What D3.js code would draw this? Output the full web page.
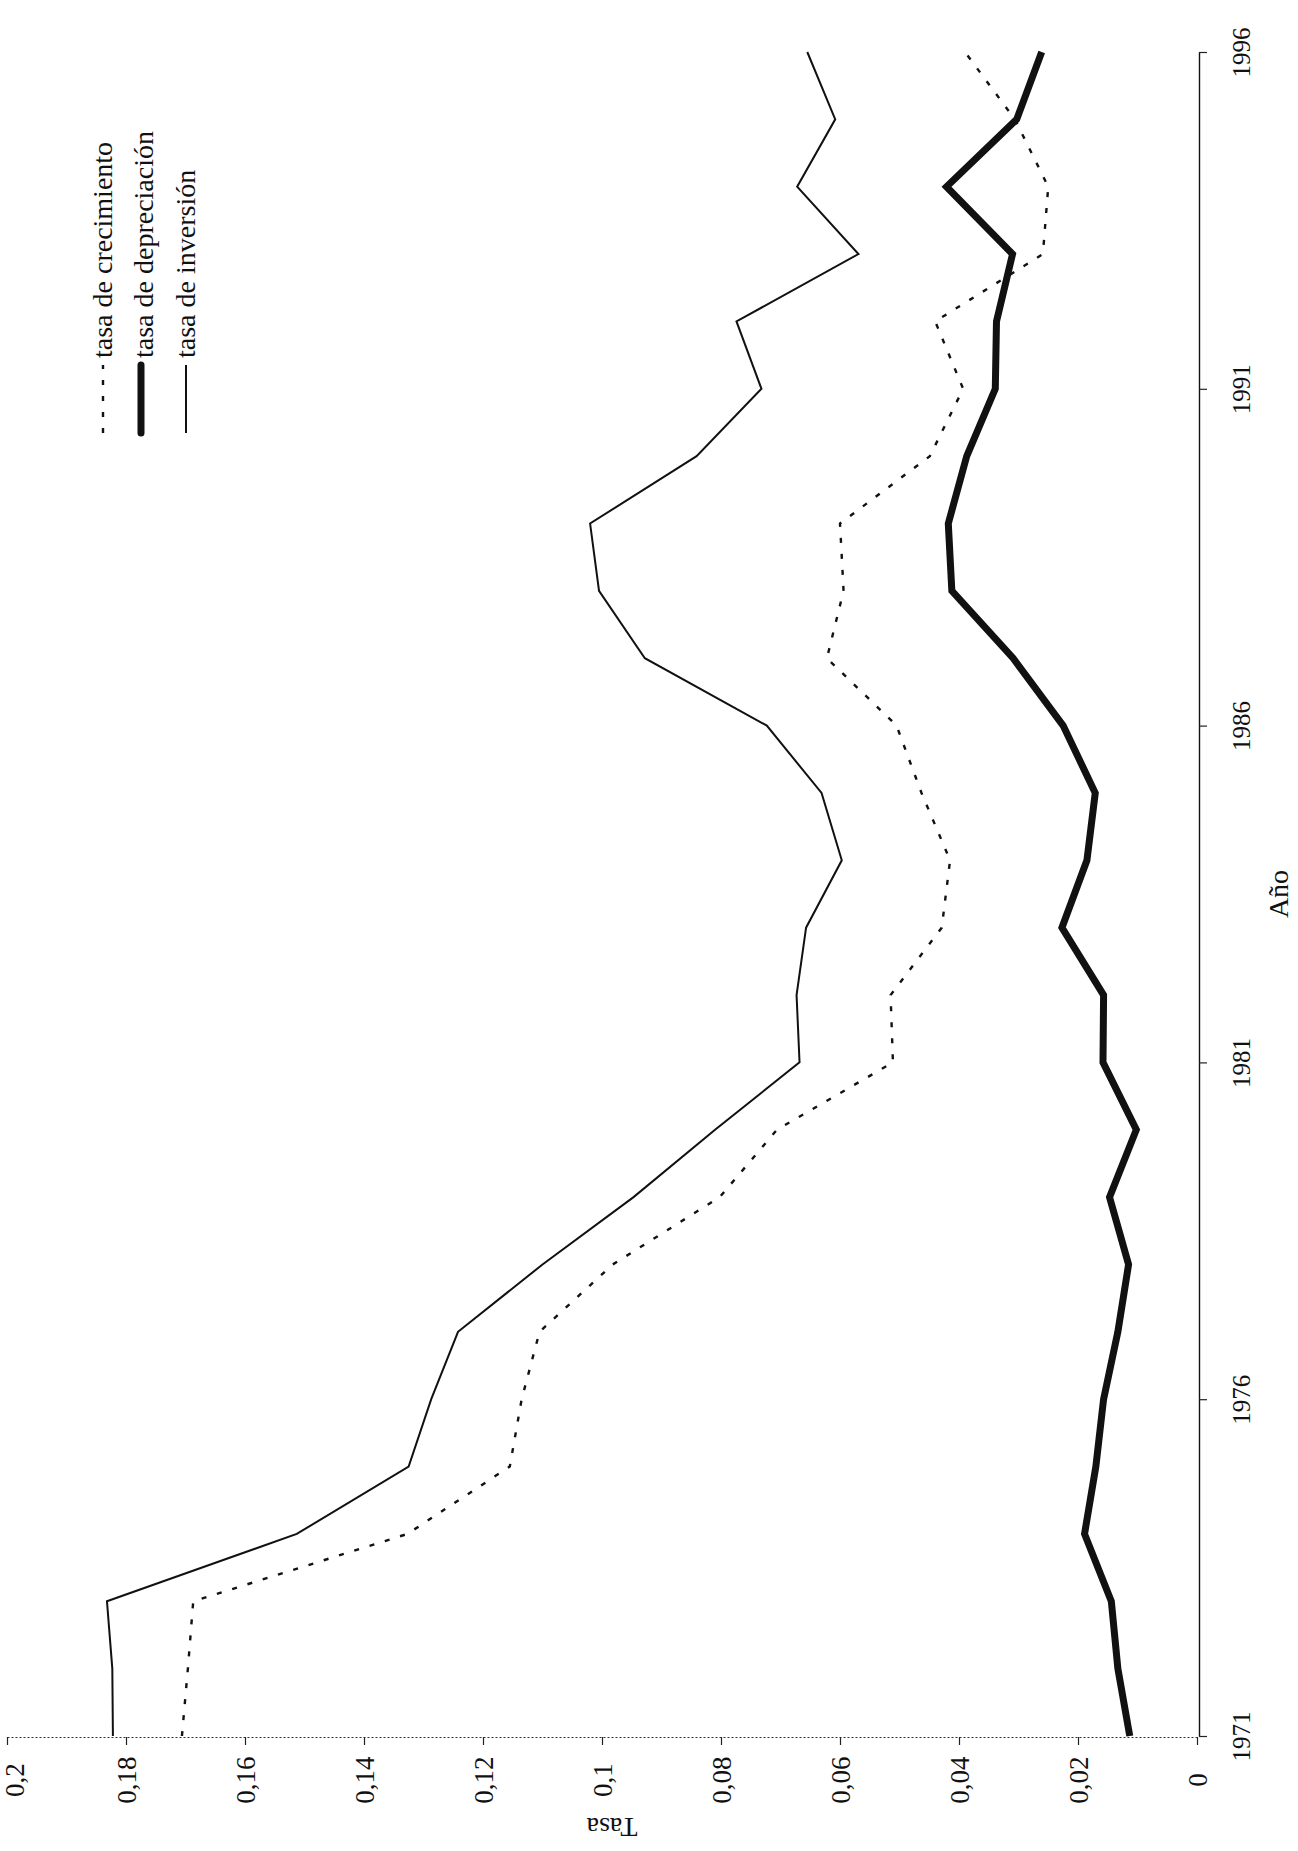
<!DOCTYPE html>
<html>
<head>
<meta charset="utf-8">
<script src="https://cdn.jsdelivr.net/npm/d3@7"></script>
<style>
  html, body { margin: 0; padding: 0; background: #fff; }
  svg { display: block; }
</style>
</head>
<body>
<svg id="chart" width="1298" height="1851"></svg>
<script>
// ---------------- DATA ----------------
const years = [1971, 1972, 1973, 1974, 1975, 1976, 1977, 1978, 1979, 1980,
               1981, 1982, 1983, 1984, 1985, 1986, 1987, 1988, 1989, 1990,
               1991, 1992, 1993, 1994, 1995, 1996];

const crecimiento = [0.1706, 0.1696, 0.1687, 0.1327, 0.1155, 0.1135, 0.1105, 0.0982, 0.0802, 0.0706,
                     0.0511, 0.0515, 0.0429, 0.0415, 0.0463, 0.0505, 0.0622, 0.0594, 0.0600, 0.0449,
                     0.0393, 0.0440, 0.0259, 0.0250, 0.0306, 0.0390];

const depreciacion = [0.0113, 0.0133, 0.0144, 0.0189, 0.0170, 0.0157, 0.0133, 0.0115, 0.0147, 0.0102,
                      0.0158, 0.0157, 0.0227, 0.0185, 0.0171, 0.0225, 0.0309, 0.0412, 0.0418, 0.0387,
                      0.0339, 0.0337, 0.0310, 0.0421, 0.0303, 0.0261];

const inversion = [0.1822, 0.1823, 0.1832, 0.1513, 0.1325, 0.1287, 0.1242, 0.1100, 0.0947, 0.0810,
                   0.0668, 0.0673, 0.0657, 0.0597, 0.0631, 0.0723, 0.0928, 0.1005, 0.1020, 0.0841,
                   0.0732, 0.0774, 0.0569, 0.0672, 0.0608, 0.0655];

const valueTicks = [0, 0.02, 0.04, 0.06, 0.08, 0.1, 0.12, 0.14, 0.16, 0.18, 0.2];
const yearTicks = [1971, 1976, 1981, 1986, 1991, 1996];
const legendLabels = ["tasa de crecimiento", "tasa de depreciación", "tasa de inversión"];
const yearTitle = "Año";
const valueTitle = "Tasa";

// ---------------- LAYOUT ----------------
const W = 1298, H = 1851;
const FONT = '"Liberation Serif", "Times New Roman", Times, serif';
const svg = d3.select('#chart');
svg.append('rect').attr('width', W).attr('height', H).attr('fill', '#fff');

const valueAxisY = 1737;
const yearAxisX = 1199;

// value -> horizontal position (0 at right, 0.2 at left)
const xv = d3.scaleLinear().domain([0, 0.2]).range([1197, 7]);
// year -> vertical position (1971 at bottom, 1996 at top)
const yy = d3.scaleLinear().domain([1971, 1996]).range([1736, 52]);

const fmt = d => d === 0 ? '0' : String(+d.toFixed(2)).replace('.', ',');

// ---------------- VALUE AXIS (bottom) ----------------
const gv = svg.append('g')
  .attr('transform', `translate(0,${valueAxisY})`)
  .call(d3.axisBottom(xv).tickValues(valueTicks).tickFormat(fmt).tickSize(8).tickSizeOuter(0));
gv.attr('font-family', FONT).attr('font-size', 27);
gv.select('.domain').attr('stroke', '#333').attr('stroke-width', 1.2).attr('stroke-dasharray', '2,2');
gv.selectAll('.tick line').attr('stroke', '#222').attr('stroke-width', 1.2);
gv.selectAll('.tick text')
  .attr('x', 0).attr('y', 0).attr('dy', '0.35em')
  .attr('transform', d => `translate(${xv(d) < 14 ? 14 - xv(d) : 0},43) rotate(-90)`)
  .attr('text-anchor', 'middle')
  .attr('fill', '#111');

// ---------------- YEAR AXIS (right) ----------------
const gy = svg.append('g')
  .attr('transform', `translate(${yearAxisX},0)`)
  .call(d3.axisRight(yy).tickValues(yearTicks).tickFormat(d3.format('d')).tickSize(8).tickSizeOuter(0));
gy.attr('font-family', FONT).attr('font-size', 25);
gy.select('.domain').attr('stroke', '#111').attr('stroke-width', 1.4);
gy.selectAll('.tick line').attr('stroke', '#222').attr('stroke-width', 1.2);
gy.selectAll('.tick text')
  .attr('x', 0).attr('y', 0).attr('dy', '0.35em')
  .attr('transform', 'translate(42,0) rotate(-90)')
  .attr('text-anchor', 'middle')
  .attr('fill', '#111');

// ---------------- AXIS TITLES ----------------
svg.append('text')
  .attr('transform', `translate(1278,${(yy(1971) + yy(1996)) / 2}) rotate(-90)`)
  .attr('dy', '0.35em')
  .attr('text-anchor', 'middle')
  .attr('font-family', FONT).attr('font-size', 28).attr('fill', '#111')
  .text(yearTitle);

svg.append('text')
  .attr('transform', `translate(612,1828) rotate(180)`)
  .attr('dy', '0.35em')
  .attr('text-anchor', 'middle')
  .attr('font-family', FONT).attr('font-size', 28).attr('fill', '#111')
  .text(valueTitle);

// ---------------- SERIES ----------------
const styles = [
  { width: 2.4, dash: '5,11', cap: 'butt' },
  { width: 7,   dash: null,   cap: 'butt' },
  { width: 2,   dash: null,   cap: 'butt' }
];
const seriesValues = [crecimiento, depreciacion, inversion];

const line = d3.line()
  .x(d => xv(d[1]))
  .y(d => yy(d[0]));

seriesValues.forEach((vals, i) => {
  const pts = years.map((y, j) => [y, vals[j]]);
  svg.append('path')
    .datum(pts)
    .attr('d', line)
    .attr('fill', 'none')
    .attr('stroke', '#111')
    .attr('stroke-width', styles[i].width)
    .attr('stroke-linejoin', 'miter')
    .attr('stroke-linecap', styles[i].cap)
    .attr('stroke-dasharray', styles[i].dash);
});

// ---------------- LEGEND ----------------
const legendSampleX = [103, 141, 186];
const legendTextX = [112, 153, 195];
const sampleBottom = 433, sampleTop = 365, textStart = 358;

const lg = svg.append('g').attr('font-family', FONT).attr('font-size', 28).attr('fill', '#111');
legendLabels.forEach((lab, i) => {
  lg.append('line')
    .attr('x1', legendSampleX[i]).attr('x2', legendSampleX[i])
    .attr('y1', sampleBottom).attr('y2', sampleTop)
    .attr('stroke', '#111')
    .attr('stroke-width', styles[i].width)
    .attr('stroke-linecap', i === 1 ? 'round' : 'butt')
    .attr('stroke-dasharray', styles[i].dash);
  lg.append('text')
    .attr('transform', `translate(${legendTextX[i]},${textStart}) rotate(-90)`)
    .attr('text-anchor', 'start')
    .text(lab);
});
</script>
</body>
</html>
